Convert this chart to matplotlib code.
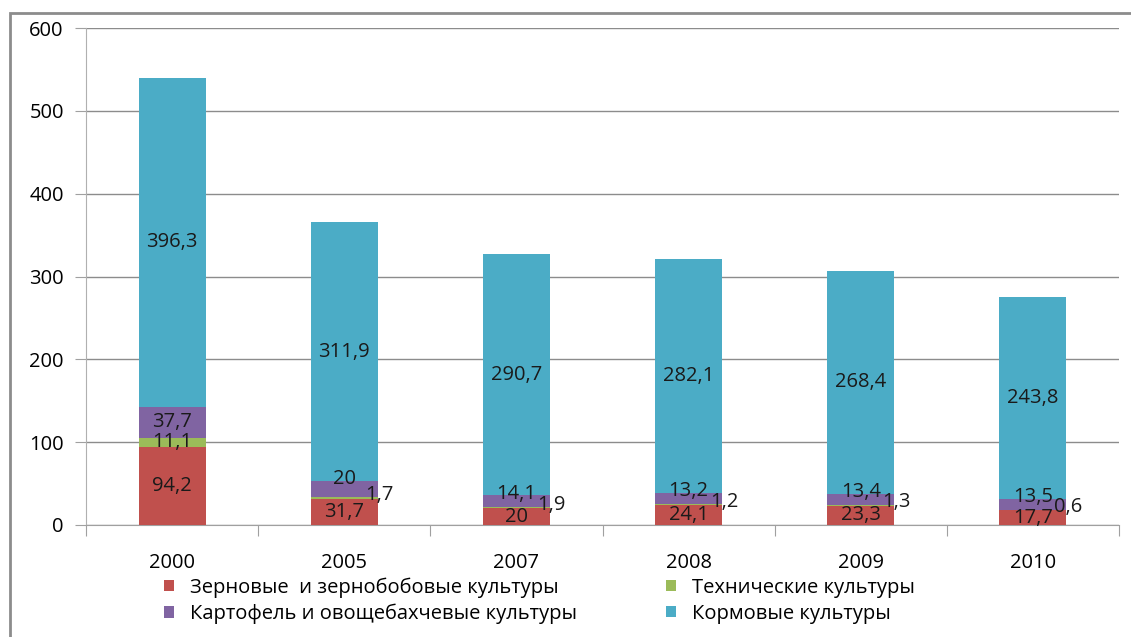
import matplotlib.pyplot as plt
import matplotlib.patches as mpatches
import numpy as np

years = ['2000', '2005', '2007', '2008', '2009', '2010']
zernovye = [94.2, 31.7, 20, 24.1, 23.3, 17.7]
tehnich = [11.1, 1.7, 1.9, 1.2, 1.3, 0.6]
kartofel = [37.7, 20, 14.1, 13.2, 13.4, 13.5]
kormovye = [396.3, 311.9, 290.7, 282.1, 268.4, 243.8]

names = ['Зерновые  и зернобобовые культуры', 'Технические культуры',
         'Картофель и овощебахчевые культуры', 'Кормовые культуры']
colors = ['#C0504D', '#9BBB59', '#8064A2', '#4BACC6']

plt.rcParams['font.family'] = ['Open Sans', 'DejaVu Sans']

fig = plt.figure(figsize=(11.31, 6.37), dpi=100)
fig.patches.append(mpatches.Rectangle((10 / 1131, -0.01), 1.0, 1 - 13 / 637 + 0.01,
                                      transform=fig.transFigure, fill=False,
                                      edgecolor='#8c8c8c', linewidth=2))
ax = fig.add_axes([86 / 1131, 1 - 525 / 637, (1119 - 86) / 1131, (525 - 28) / 637])

x = np.arange(len(years))
w = 0.39
series = [zernovye, tehnich, kartofel, kormovye]
bottom = np.zeros(len(years))
bars = []
for k, (vals, c, nm) in enumerate(zip(series, colors, names)):
    b = ax.bar(x, vals, w, bottom=bottom, color=c, label=nm, zorder=3)
    bars.append(b)
    for i, v in enumerate(vals):
        s = f'{v:g}'.replace('.', ',')
        xc, yc = x[i], bottom[i] + v / 2
        if i > 0 and k == 1:
            xc, yc = x[i] + w / 2 + 0.01, bottom[i] + 4
        elif i > 0 and k == 2:
            yc = bottom[i] + v + 2
        ax.text(xc, yc, s, ha='center', va='center', fontsize=14.5,
                color='#1a1a1a', zorder=4)
    bottom += np.array(vals)

ax.set_xlim(-0.5, len(years) - 0.5)
ax.set_ylim(0, 600)
ax.set_yticks(range(0, 601, 100))
ax.yaxis.grid(True, color='#8c8c8c', linewidth=1)
ax.set_axisbelow(True)
for sp in ['top', 'right']:
    ax.spines[sp].set_visible(False)
ax.spines['left'].set_color('#b0b0b0')
ax.spines['bottom'].set_color('#a0a0a0')

ax.set_xticks(np.arange(-0.5, len(years)), minor=False)
ax.set_xticklabels([])
ax.set_xticks(x, minor=True)
ax.set_xticklabels(years, minor=True)
ax.tick_params(axis='x', which='major', length=8, color='#a0a0a0', direction='out')
ax.tick_params(axis='x', which='minor', length=0, pad=20, labelsize=14.5)
ax.tick_params(axis='y', length=8, color='#a0a0a0', labelsize=14.5, pad=8)

order = [0, 2, 1, 3]
fig.legend([bars[j] for j in order], [names[j] for j in order], loc='upper left',
           bbox_to_anchor=(150 / 1131, 1 - 563 / 637), ncol=2, frameon=False,
           fontsize=14.5, handlelength=0.5, handleheight=0.5, borderpad=0.2,
           columnspacing=4.4, labelspacing=0.3, handletextpad=0.8)

fig.savefig('out.png', dpi=100)
